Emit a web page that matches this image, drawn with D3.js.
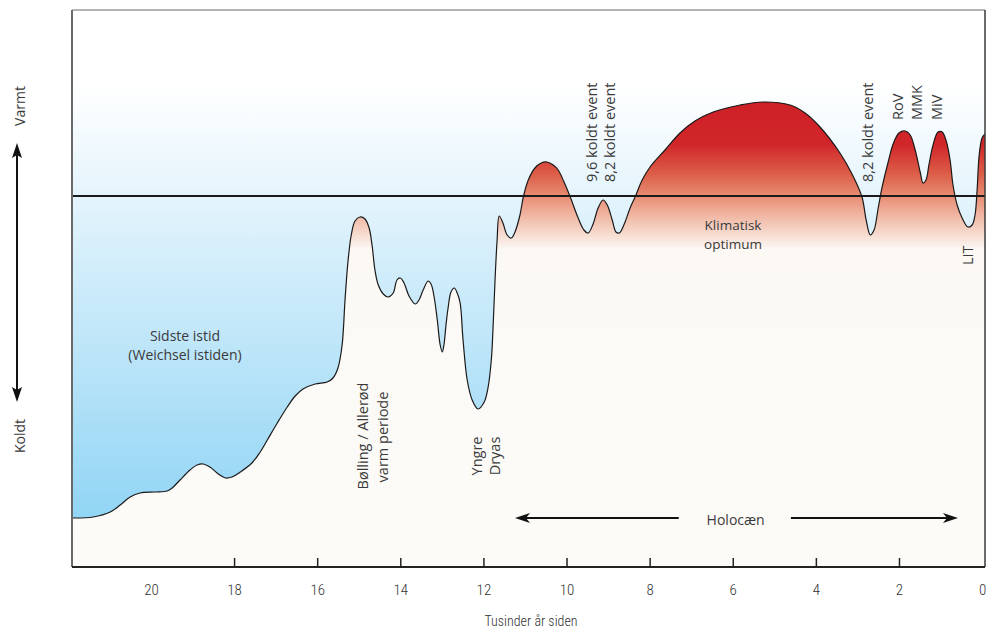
<!DOCTYPE html>
<html><head><meta charset="utf-8">
<script src="https://cdn.jsdelivr.net/npm/d3@7/dist/d3.min.js"></script>
<style>
html,body{margin:0;padding:0;background:#fff;}
svg{display:block;}
.ann{font-family:"Open Sans",sans-serif;fill:#3a3a3a;}
.tk{font-family:"Roboto Condensed","DejaVu Sans Condensed",Roboto,sans-serif;font-weight:300;fill:#333;}
</style></head>
<body><svg id="c" width="986" height="630"></svg>
<script>
// thousands of years before present
const kyr = [21.90,21.39,20.98,20.74,20.50,20.26,19.90,19.61,19.49,19.30,19.06,18.89,18.74,18.58,18.38,18.21,18.05,17.85,17.57,17.37,17.20,16.96,16.72,16.53,16.34,16.05,15.76,15.62,15.50,15.40,15.33,15.26,15.18,15.09,14.97,14.85,14.75,14.68,14.61,14.53,14.41,14.29,14.17,14.08,14.00,13.91,13.79,13.64,13.55,13.45,13.33,13.26,13.19,13.11,13.04,12.99,12.95,12.90,12.85,12.78,12.70,12.63,12.56,12.49,12.39,12.27,12.13,11.98,11.89,11.81,11.77,11.72,11.67,11.62,11.53,11.43,11.33,11.24,11.12,11.04,10.92,10.76,10.61,10.47,10.32,10.20,10.06,9.91,9.72,9.58,9.48,9.36,9.24,9.12,9.02,8.90,8.81,8.73,8.61,8.47,8.35,8.18,7.99,7.63,7.27,6.91,6.47,5.82,5.27,4.62,4.26,3.90,3.42,3.13,2.89,2.79,2.69,2.60,2.50,2.41,2.26,2.14,2.00,1.85,1.73,1.61,1.49,1.42,1.35,1.28,1.18,1.06,0.96,0.87,0.77,0.70,0.60,0.48,0.34,0.24,0.17,0.12,0.07,0.00,-0.07];
// relative temperature index (0 = present-day level)
const temp = [-32.2,-32.1,-31.6,-30.9,-30.1,-29.7,-29.6,-29.5,-29.2,-28.4,-27.4,-26.9,-26.8,-27.1,-27.8,-28.2,-28.1,-27.6,-26.7,-25.6,-24.4,-22.7,-21.1,-20.0,-19.3,-18.8,-18.6,-18.2,-17.2,-14.9,-10.4,-6.6,-3.9,-2.5,-2.1,-2.3,-3.2,-4.9,-7.4,-8.9,-9.8,-10.1,-9.7,-8.4,-8.2,-8.7,-10.0,-10.8,-10.4,-9.4,-8.5,-8.8,-10.0,-12.4,-14.9,-15.6,-14.9,-12.9,-11.2,-9.6,-9.2,-9.7,-10.7,-14.4,-18.4,-20.4,-21.3,-20.6,-19.2,-16.4,-13.4,-8.4,-4.4,-2.0,-2.7,-3.9,-4.2,-3.6,-1.9,-0.1,1.6,2.8,3.3,3.4,3.1,2.6,1.4,-0.1,-2.2,-3.4,-3.7,-2.8,-1.2,-0.4,-0.9,-2.4,-3.6,-3.7,-2.8,-1.2,-0.1,1.6,2.9,4.6,6.3,7.5,8.4,9.1,9.4,9.1,8.3,6.9,4.3,2.2,-0.1,-2.4,-3.9,-3.4,-1.2,0.8,3.4,5.2,6.3,6.5,6.1,4.6,2.4,1.3,1.6,3.1,5.1,6.4,6.4,5.6,3.6,1.1,-0.9,-2.2,-3.1,-2.9,-1.9,0.6,4.1,5.8,6.2];
const tickValues = [20,18,16,14,12,10,8,6,4,2,0];
const tickLabels = ["20","18","16","14","12","10","8","6","4","2","0"];

const data = kyr.map((k,i)=>({k:k,t:temp[i]}));
const L=72,R=985,T=10,B=567;
const x = d3.scaleLinear().domain([21.9,-0.07]).range([L,R]);
const y = d3.scaleLinear().domain([-37.1,18.6]).range([B,T]);

const svg = d3.select("#c");
const defs = svg.append("defs");
defs.append("clipPath").attr("id","clip").append("rect").attr("x",L).attr("y",T).attr("width",R-L).attr("height",B-T);

const blue = defs.append("linearGradient").attr("id","blue").attr("gradientUnits","userSpaceOnUse")
  .attr("x1",0).attr("x2",0).attr("y1",T).attr("y2",B);
[[y(11),"#ffffff"],[y(0),"#e4f4fc"],[y(-32),"#92d5f5"],[B,"#8fd3f5"]].forEach(s=>{
  blue.append("stop").attr("offset",(s[0]-T)/(B-T)).attr("stop-color",s[1]);});
const red = defs.append("linearGradient").attr("id","red").attr("gradientUnits","userSpaceOnUse")
  .attr("x1",0).attr("x2",0).attr("y1",T).attr("y2",B);
[[y(10),"#cc1f27"],[y(5.2),"#d12629"],[y(2.2),"#dc5e48"],[y(0),"#e88c73"],[y(-2.4),"#f2c0ae"],[y(-5.4),"#fcf9f5"],[B,"#fcfbf8"]].forEach(s=>{
  red.append("stop").attr("offset",(s[0]-T)/(B-T)).attr("stop-color",s[1]);});

const g = svg.append("g").attr("clip-path","url(#clip)");
const curve = d3.curveCatmullRom.alpha(0.5);
g.append("path").datum(data).attr("fill","url(#blue)")
  .attr("d", d3.area().x(d=>x(d.k)).y0(T).y1(d=>y(d.t)).curve(curve));
g.append("path").datum(data).attr("fill","url(#red)")
  .attr("d", d3.area().x(d=>x(d.k)).y0(B).y1(d=>y(d.t)).curve(curve));
g.append("line").attr("x1",L).attr("x2",R).attr("y1",y(0)).attr("y2",y(0))
  .attr("stroke","#1a1a1a").attr("stroke-width",1.8);
g.append("path").datum(data).attr("fill","none").attr("stroke","#1a1a1a").attr("stroke-width",1.2)
  .attr("d", d3.line().x(d=>x(d.k)).y(d=>y(d.t)).curve(curve));

// frame
svg.append("line").attr("x1",L).attr("x2",L).attr("y1",T).attr("y2",B).attr("stroke","#6a6a6a").attr("stroke-width",2);
svg.append("line").attr("x1",L).attr("x2",R).attr("y1",T).attr("y2",T).attr("stroke","#6a6a6a").attr("stroke-width",1);
svg.append("line").attr("x1",R).attr("x2",R).attr("y1",T).attr("y2",B).attr("stroke","#3a3a3a").attr("stroke-width",1.5);

// axis
const ax = svg.append("g").attr("transform",`translate(0,${B})`)
  .call(d3.axisBottom(x).tickValues(tickValues).tickFormat((d,i)=>tickLabels[i]).tickSizeInner(-9).tickSizeOuter(0).tickPadding(17));
ax.attr("font-family",null).attr("font-size",null);
ax.select(".domain").attr("stroke","#222").attr("stroke-width",2).attr("d",`M${L},0H${R}`);
ax.selectAll(".tick line").attr("stroke","#222").attr("stroke-width",1.5).attr("opacity",d=>(d===20||d===0)?0:1);
ax.selectAll(".tick text").attr("class","tk").style("font-size","15px").attr("fill","#333");
svg.append("text").attr("class","tk").attr("x",531).attr("y",626).attr("text-anchor","middle")
  .style("font-size","14px").text("Tusinder år siden");

// left warm/cold arrow
const arr = svg.append("g").attr("fill","#111").attr("stroke","#111");
arr.append("line").attr("x1",17).attr("x2",17).attr("y1",152).attr("y2",394).attr("stroke-width",2);
arr.append("path").attr("stroke","none").attr("d","M17,143 L22,158 L17,155 L12,158 Z");
arr.append("path").attr("stroke","none").attr("d","M17,402 L22,387 L17,390 L12,387 Z");
function rot(txt,xx,yy,anchor,size){
  svg.append("text").attr("class","ann").attr("transform",`translate(${xx},${yy}) rotate(-90)`)
    .attr("text-anchor",anchor).style("font-size",size+"px").text(txt);
}
rot("Varmt",25,106,"middle",14);
rot("Koldt",25,436,"middle",14);

// Holocene arrow
const hy = 518;
const ha = svg.append("g");
ha.append("line").attr("x1",x(11.1)).attr("x2",x(7.3)).attr("y1",hy).attr("y2",hy).attr("stroke","#111").attr("stroke-width",2);
ha.append("line").attr("x1",x(4.6)).attr("x2",x(0.72)).attr("y1",hy).attr("y2",hy).attr("stroke","#111").attr("stroke-width",2);
const lx=x(11.24), rx=x(0.58);
ha.append("path").attr("fill","#111").attr("d",`M${lx},${hy} L${lx+15},${hy-5} L${lx+11},${hy} L${lx+15},${hy+5} Z`);
ha.append("path").attr("fill","#111").attr("d",`M${rx},${hy} L${rx-15},${hy-5} L${rx-11},${hy} L${rx-15},${hy+5} Z`);
svg.append("text").attr("class","ann").attr("x",x(5.93)).attr("y",525).attr("text-anchor","middle").style("font-size","14px").text("Holocæn");

// annotations
function htxt(t,xx,yy,fs){svg.append("text").attr("class","ann").attr("x",xx).attr("y",yy).attr("text-anchor","middle").style("font-size",(fs||14)+"px").text(t);}
htxt("Sidste istid",185,341);
htxt("(Weichsel istiden)",185,360);
htxt("Klimatisk",733,230,13.5);
htxt("optimum",733,249,13.5);

rot("9,6 koldt event",597,182,"start",14.5);
rot("8,2 koldt event",615,182,"start",14.5);
rot("8,2 koldt event",873,182,"start",14.5);
rot("RoV",903,120,"start",14.5);
rot("MMK",922,120,"start",14.5);
rot("MiV",942,120,"start",14.5);
rot("LIT",973,265,"start",14.5);
rot("Bølling / Allerød",368,436,"middle",14.5);
rot("varm periode",388,437,"middle",14.5);
rot("Yngre",482,456,"middle",14.5);
rot("Dryas",500,456,"middle",14.5);
</script></body></html>
